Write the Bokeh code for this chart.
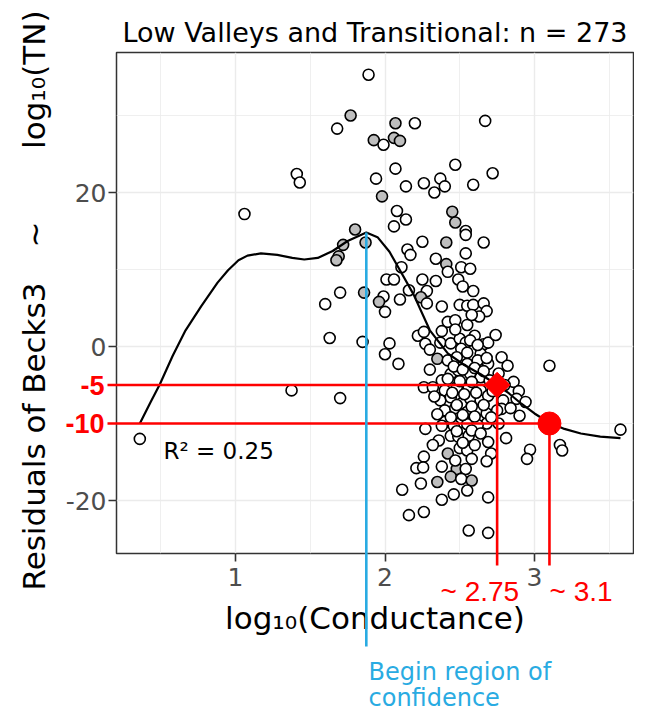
import numpy as np
from bokeh.plotting import figure
from bokeh.models import Range1d, Label, FixedTicker, ColumnDataSource
from bokeh.core.properties import value
from bokeh.embed import file_html
from bokeh.resources import INLINE

# ---------------- data ----------------
title_text = "Low Valleys and Transitional: n = 273"
x_label = "log\u2081\u2080(Conductance)"
y_label_parts = ["Residuals of Becks3", "~", "log\u2081\u2080(TN)"]
r2_text = "R\u00b2 = 0.25"

x_ticks = [1, 2, 3]
x_minor = [0.5, 1.5, 2.5, 3.5]
y_ticks = [-20, 0, 20]
y_minor = [-10, 10, 30]
y_tick_labels = ["-20", "0", "20"]

# log10(Conductance), residuals, grey-filled flag
pts = [
    (0.36, -12.0, 0), (1.06, 17.2, 0), (1.41, 22.4, 0), (1.43, 21.3, 0), (1.375, -5.7, 0),
    (1.70, -6.7, 0), (1.63, 1.1, 0), (1.85, 0.6, 0), (1.60, 5.5, 0), (1.70, 7.0, 0),
    (1.86, 7.0, 1), (1.69, 11.7, 1), (1.675, 11.2, 1), (1.72, 13.2, 1), (1.80, 15.2, 1),
    (1.87, 13.5, 1), (1.68, 28.3, 0), (1.77, 30.0, 1), (1.89, 35.3, 0), (1.925, 26.8, 1),
    (1.99, 26.2, 0), (2.06, 27.1, 1), (2.10, 26.7, 1), (2.07, 29.0, 1), (2.20, 29.0, 0),
    (2.67, 29.3, 0), (2.07, 23.1, 0), (1.94, 21.8, 0), (2.14, 20.8, 0), (2.26, 21.2, 0),
    (2.37, 21.8, 0), (2.33, 20.0, 0), (2.40, 20.8, 0), (2.47, 23.6, 0), (2.59, 21.0, 0),
    (2.72, 22.5, 0), (1.98, 19.5, 1), (2.08, 17.6, 0), (2.14, 16.5, 0), (2.06, 15.6, 0),
    (2.45, 17.5, 1), (2.47, 16.1, 1), (2.54, 15.0, 0), (2.54, 14.5, 0), (2.66, 13.5, 0),
    (2.41, 13.5, 1), (2.25, 13.6, 0), (2.15, 12.6, 0), (2.17, 11.9, 0), (2.54, 12.1, 0),
    (2.34, 11.4, 0), (2.11, 10.3, 0), (2.41, 10.7, 1), (2.51, 10.3, 0), (2.57, 10.1, 0),
    (2.42, 9.7, 0), (2.01, 8.7, 0), (2.06, 8.7, 0), (2.25, 8.7, 0), (2.34, 8.5, 0),
    (2.49, 8.7, 0), (2.52, 7.8, 0), (2.16, 7.3, 0), (2.28, 7.2, 0), (2.59, 7.2, 0),
    (1.99, 6.5, 0), (2.10, 6.1, 0), (2.24, 6.4, 1), (2.28, 5.6, 0), (2.38, 5.2, 0),
    (2.50, 5.4, 0), (2.55, 5.3, 0), (2.59, 5.4, 0), (2.66, 5.6, 0), (2.68, 4.6, 0),
    (2.00, 4.5, 0), (1.96, 5.8, 1), (2.42, 3.2, 0), (2.47, 3.4, 0), (2.55, 2.8, 0),
    (2.63, 3.9, 0), (2.22, 1.4, 0), (2.26, 1.9, 0), (2.37, 0.5, 0), (2.44, 0.4, 0),
    (2.50, 1.0, 0), (2.54, 0.5, 0), (2.60, 1.4, 0), (2.66, 0.3, 0), (2.69, 0.5, 0),
    (2.74, 1.5, 0), (2.03, 0.4, 0), (2.00, -1.0, 0), (2.09, -2.25, 0),
    (2.27, 0.35, 0), (2.51, -0.3, 0), (2.57, 0.8, 0), (2.64, -0.95, 0), (2.30, -0.4, 0),
    (2.35, -1.6, 1), (2.42, -1.8, 0), (2.48, -1.4, 0), (2.55, -2.25, 0), (2.62, -1.8, 0),
    (2.69, -2.25, 0), (2.78, -1.4, 0), (2.82, -2.5, 0), (2.26, -5.3, 0), (2.32, -5.3, 0),
    (2.38, -4.4, 0), (2.44, -3.55, 0), (2.49, -3.1, 0), (2.57, -3.55, 0), (2.64, -4.0, 0),
    (2.40, -5.7, 0), (2.48, -5.3, 0), (2.56, -5.3, 0), (2.64, -5.7, 0), (2.86, -4.6, 0),
    (2.895, -5.8, 0), (2.88, -6.8, 0), (2.94, -7.2, 0), (2.79, -7.0, 0), (2.78, -8.1, 0),
    (2.37, -7.0, 0), (2.44, -6.6, 0), (2.51, -7.4, 0), (2.57, -6.8, 0), (2.64, -7.0, 0),
    (2.69, -6.4, 0), (2.40, -8.3, 0), (2.47, -8.0, 0), (2.55, -8.5, 0), (2.62, -8.3, 0),
    (2.68, -8.7, 0), (2.75, -8.3, 0), (2.27, -10.7, 0), (2.40, -9.8, 0), (2.51, -9.8, 0),
    (2.59, -9.6, 0), (2.68, -10.0, 0),
    (2.38, -10.3, 0), (2.46, -10.3, 0), (2.55, -10.1, 0), (2.62, -10.2, 0), (2.76, -10.0, 0),
    (2.36, -12.2, 0), (2.44, -11.6, 0), (2.49, -11.7, 0), (2.56, -11.6, 0), (2.69, -12.4, 0),
    (2.81, -11.9, 0), (2.42, -13.9, 1), (2.50, -13.2, 0), (2.55, -13.5, 0), (2.71, -13.9, 0),
    (2.68, -14.9, 0), (2.26, -14.3, 0), (2.21, -15.8, 0), (2.255, -15.7, 0), (2.38, -15.6, 0),
    (2.48, -15.9, 1), (2.54, -15.9, 0), (2.44, -16.9, 1), (2.51, -17.2, 0), (2.35, -17.6, 1),
    (2.24, -17.8, 0), (2.115, -18.6, 0), (2.58, -17.4, 1), (2.55, -18.7, 0), (2.46, -19.2, 0),
    (2.38, -19.9, 0), (2.69, -19.6, 0), (2.97, -13.4, 0), (2.95, -14.6, 0), (2.16, -21.9, 0),
    (2.26, -21.5, 0), (2.56, -23.9, 0), (2.69, -24.2, 0),
    (3.10, -2.5, 0), (3.575, -10.8, 0), (3.17, -12.8, 0), (3.185, -13.5, 0),
    (2.46, -2.6, 0), (2.52, -3.0, 0), (2.60, -2.8, 0), (2.66, -3.2, 0), (2.42, -4.2, 0),
    (2.50, -4.5, 0), (2.58, -4.6, 0), (2.70, -4.4, 0), (2.45, -6.0, 0), (2.53, -6.2, 0),
    (2.61, -6.0, 0), (2.72, -5.8, 0), (2.33, -6.5, 0), (2.48, -7.6, 0), (2.58, -7.8, 0),
    (2.66, -7.6, 0), (2.35, -8.8, 0), (2.44, -9.2, 0), (2.52, -8.9, 0), (2.60, -9.1, 0),
    (2.71, -9.2, 0), (2.48, -11.0, 0), (2.58, -10.9, 0), (2.64, -11.3, 0), (2.52, -12.5, 0),
    (2.60, -12.8, 0), (2.47, -14.8, 0), (2.58, -14.6, 0), (2.32, -12.8, 0), (2.30, -3.0, 0),
    (2.55, -0.8, 0), (2.62, 0.2, 0), (2.38, 2.0, 0), (2.47, 2.2, 0), (2.58, 4.1, 0),
    (2.68, -1.5, 0), (2.76, -3.5, 0), (2.80, -5.0, 0), (2.84, -8.0, 0), (2.90, -9.0, 0),
]
cond = [p_[0] for p_ in pts]
resid = [p_[1] for p_ in pts]
grey = [p_[2] for p_ in pts]

# smoother
curve_x = [0.36, 0.43, 0.494, 0.58, 0.666, 0.77, 0.88, 0.95, 1.02, 1.08, 1.17, 1.28, 1.38,
           1.46, 1.55, 1.65, 1.75, 1.875, 1.95, 2.03, 2.10, 2.19, 2.30, 2.42, 2.53,
           2.64, 2.75, 2.83, 2.91, 3.00, 3.09, 3.20, 3.31, 3.44, 3.575]
curve_y = [-10.0, -7.3, -4.9, -1.2, 2.1, 5.2, 8.3, 9.9, 11.2, 11.8, 12.1, 11.9, 11.5,
           11.3, 11.5, 12.4, 13.7, 14.8, 14.2, 12.3, 9.9, 6.8, 2.1, -0.9, -2.4,
           -3.6, -5.0, -6.1, -7.4, -8.7, -9.8, -10.7, -11.3, -11.7, -11.9]

thresh_resid = [-5, -10]
thresh_cond = [2.75, 3.1]
thresh_resid_labels = ["-5", "-10"]
thresh_cond_labels = ["~ 2.75", "~ 3.1"]
conf_x = 1.875
conf_y = 14.8
conf_text = ["Begin region of", "confidence"]

# ---------------- layout ----------------
W, H = 634, 712                              # fits the 650x728 window with its margin
FL, FR, FT, FB = 116, 633, 52, 553          # frame edges in canvas pixels
X0, X1 = 1 + (FL - 235) / 149.5, 1 + (FR - 235) / 149.5
Y1, Y0 = (346 - FT) / 7.7, (346 - FB) / 7.7


def sx(px):
    return X0 + (px - FL) * (X1 - X0) / (FR - FL)


def sy(py):
    return Y1 - (py - FT) * (Y1 - Y0) / (FB - FT)


RED = "#FF0000"
BLUE = "#29ABE2"
FONT = "DejaVu Sans"

p = figure(width=W, height=H, output_backend="svg", toolbar_location=None,
           x_range=Range1d(X0, X1), y_range=Range1d(Y0, Y1),
           min_border_left=FL, min_border_right=W - FR,
           min_border_top=FT, min_border_bottom=H - FB)
p.background_fill_color = "white"
p.border_fill_color = "white"
p.outline_line_color = "#333333"
p.outline_line_width = 1.5

p.title.text = title_text
p.title.text_font = FONT
p.title.text_font_size = "27px"
p.title.text_font_style = "normal"
p.title.text_color = "black"
p.title.align = "center"
p.title.standoff = 10

p.xaxis.ticker = FixedTicker(ticks=x_ticks, minor_ticks=x_minor)
p.yaxis.ticker = FixedTicker(ticks=y_ticks, minor_ticks=y_minor)
p.yaxis.major_label_overrides = {t: s for t, s in zip(y_ticks, y_tick_labels)}
for g in (p.xgrid, p.ygrid):
    g.grid_line_color = "#EBEBEB"
    g.grid_line_width = 1.4
    g.minor_grid_line_color = "#EBEBEB"
    g.minor_grid_line_width = 0.8
for ax in (p.xaxis, p.yaxis):
    ax.axis_line_color = None
    ax.minor_tick_line_color = None
    ax.major_tick_line_color = "#333333"
    ax.major_tick_line_width = 1.6
    ax.major_tick_out = 8
    ax.major_tick_in = 0
    ax.major_label_text_font = FONT
    ax.major_label_text_font_size = "25px"
    ax.major_label_text_color = "#4D4D4D"
p.xaxis.major_label_standoff = 6
p.yaxis.major_label_standoff = 2
p.xaxis.axis_label = x_label
p.xaxis.axis_label_text_font = FONT
p.xaxis.axis_label_text_font_size = "31px"
p.xaxis.axis_label_text_font_style = "normal"
p.xaxis.axis_label_text_color = "black"
p.xaxis.axis_label_standoff = 11

src = ColumnDataSource(dict(x=cond, y=resid,
                            fill=["#BEBEBE" if g else "white" for g in grey]))
p.scatter("x", "y", source=src, size=11, fill_color="fill",
          line_color="black", line_width=1.6)
p.line(curve_x, curve_y, line_color="black", line_width=2.2)

# red markers on the smoother
p.scatter([thresh_cond[0]], [thresh_resid[0]], marker="square", angle=np.pi / 4,
          size=18, fill_color=RED, line_color=RED)
p.scatter([thresh_cond[1]], [thresh_resid[1]], marker="circle",
          size=23, fill_color=RED, line_color=RED)

# guide lines drawn on the overlay level so they may leave the panel
p.segment(x0=[sx(107)] * 2, y0=thresh_resid, x1=thresh_cond, y1=thresh_resid,
          line_color=RED, line_width=2.6, level="overlay")
p.segment(x0=thresh_cond, y0=thresh_resid, x1=thresh_cond, y1=[sy(565)] * 2,
          line_color=RED, line_width=2.6, level="overlay")
p.segment(x0=[conf_x], y0=[conf_y], x1=[conf_x], y1=[sy(646)],
          line_color=BLUE, line_width=2.6, level="overlay")

# red labels
p.text(x=[sx(104)] * 2, y=thresh_resid, text=thresh_resid_labels,
       text_align="right", text_baseline="middle", text_color=RED,
       text_font=value("Liberation Sans"), text_font_style="bold",
       text_font_size=value("27px"), level="overlay")
p.text(x=[sx(440), sx(549)], y=[sy(590.5)] * 2, text=thresh_cond_labels,
       text_align="left", text_baseline="alphabetic", text_color=RED,
       text_font=value("Liberation Sans"), text_font_size=value("28px"),
       level="overlay")

# blue text
p.text(x=[sx(368)] * 2, y=[sy(671), sy(697)], text=conf_text,
       text_align="left", text_baseline="alphabetic", text_color=BLUE,
       text_font=value(FONT), text_font_size=value("24px"), level="overlay")

# R^2
p.add_layout(Label(x=sx(163), y=sy(450.7), text=r2_text, text_align="left",
                   text_baseline="alphabetic", text_color="black",
                   text_font=FONT, text_font_size="23px"))

# y axis title, centred on the panel: start, tilde, end
p.text(x=[sx(33)] * 3, y=[sy(590), sy(234), sy(10)], text=y_label_parts,
       angle=np.pi / 2, text_align=["left", "center", "right"],
       text_baseline="middle", text_color="black",
       text_font=value(FONT), text_font_size=value("31px"), level="overlay")

open("out.html", "w").write(file_html(p, INLINE))
